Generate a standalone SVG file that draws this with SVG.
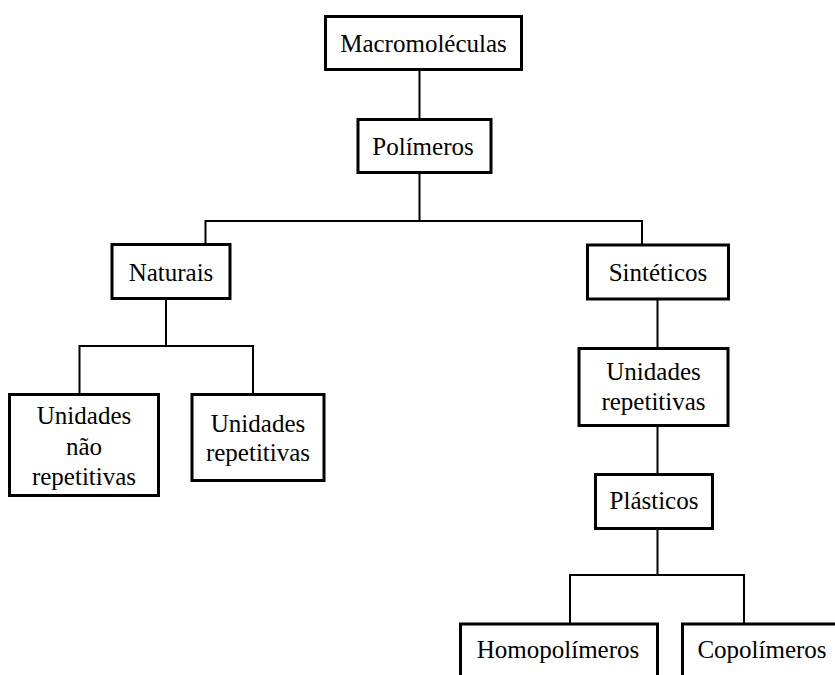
<svg xmlns="http://www.w3.org/2000/svg" width="835" height="675" viewBox="0 0 835 675">
  <style>
    .box { fill: #fff; stroke: #000; stroke-width: 3; }
    .lbl { font-family: "Liberation Serif", "Times New Roman", serif; font-size: 25px; fill: #000; text-anchor: middle; }
    .wire { fill: none; stroke: #000; stroke-width: 2; }
  </style>
  <rect width="835" height="675" fill="#fff"/>

  <!-- connectors -->
  <g id="connectors">
    <path class="wire" d="M419.5,70 V118"/>
    <path class="wire" d="M419.5,173 V221 M205.5,244 V221 H642 V244"/>
    <path class="wire" d="M166,299 V346 M79.5,394 V346 H253 V394"/>
    <path class="wire" d="M657.5,300 V347"/>
    <path class="wire" d="M657.5,426 V473"/>
    <path class="wire" d="M657.5,529 V575 M570,623 V575 H744 V623"/>
  </g>

  <g id="macromoleculas">
    <rect class="box" x="325.5" y="16.5" width="196" height="53"/>
    <text class="lbl" x="423.5" y="52">Macromoléculas</text>
  </g>

  <g id="polimeros">
    <rect class="box" x="358" y="119.5" width="133" height="53"/>
    <text class="lbl" x="423" y="155">Polímeros</text>
  </g>

  <g id="naturais">
    <rect class="box" x="112" y="244.5" width="118" height="54"/>
    <text class="lbl" x="171" y="281">Naturais</text>
  </g>

  <g id="sinteticos">
    <rect class="box" x="587.5" y="245" width="141" height="54"/>
    <text class="lbl" x="658" y="281">Sintéticos</text>
  </g>

  <g id="unidades-nao-repetitivas">
    <rect class="box" x="9.5" y="394.5" width="149" height="101"/>
    <text class="lbl" x="84" y="424">Unidades</text>
    <text class="lbl" x="84" y="455">não</text>
    <text class="lbl" x="84" y="485">repetitivas</text>
  </g>

  <g id="unidades-repetitivas-naturais">
    <rect class="box" x="192" y="394.5" width="132" height="86"/>
    <text class="lbl" x="258" y="432">Unidades</text>
    <text class="lbl" x="258" y="461">repetitivas</text>
  </g>

  <g id="unidades-repetitivas-sinteticos">
    <rect class="box" x="579" y="348.5" width="149" height="77"/>
    <text class="lbl" x="653.5" y="380">Unidades</text>
    <text class="lbl" x="653.5" y="410">repetitivas</text>
  </g>

  <g id="plasticos">
    <rect class="box" x="595.5" y="474.5" width="117" height="54"/>
    <text class="lbl" x="654" y="509">Plásticos</text>
  </g>

  <g id="homopolimeros">
    <rect class="box" x="460.5" y="624" width="197" height="60"/>
    <text class="lbl" x="558" y="658">Homopolímeros</text>
  </g>

  <g id="copolimeros">
    <rect class="box" x="682.5" y="624" width="160" height="60"/>
    <text class="lbl" x="762" y="658">Copolímeros</text>
  </g>
</svg>
